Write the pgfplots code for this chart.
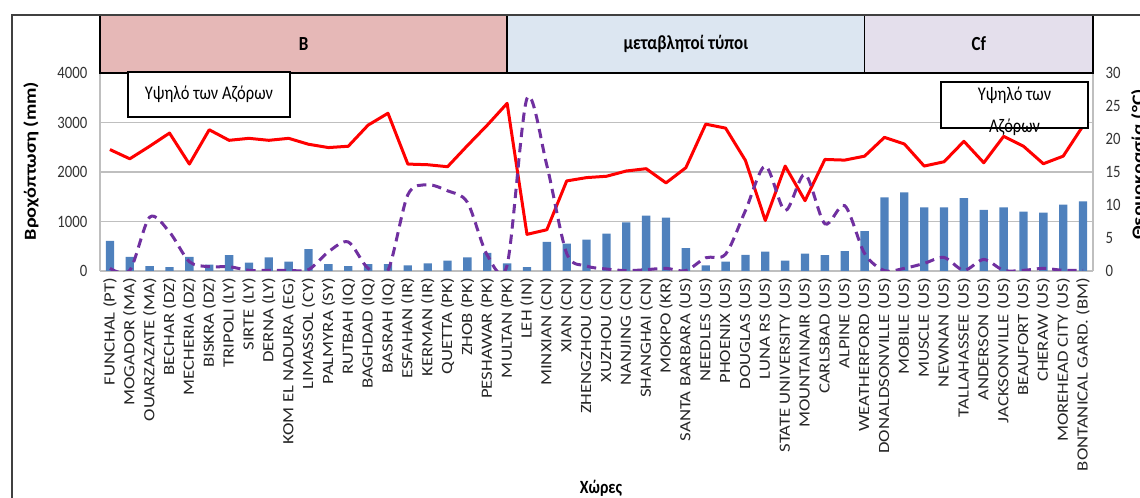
\documentclass[border=0pt]{standalone}
\usepackage{fontspec}
\setmainfont{Carlito}
\newfontfamily\hfont[FakeStretch=0.85]{Carlito}
\newfontfamily\vfont[FakeStretch=1.2]{Carlito}
\usepackage{pgfplots}
\usepackage{pgfplotstable}
\pgfplotsset{compat=1.18}

\definecolor{barblue}{HTML}{4F81BD}
\definecolor{tempred}{HTML}{FF0000}
\definecolor{rngpurple}{HTML}{7030A0}
\definecolor{bandB}{HTML}{E6B8B7}
\definecolor{bandV}{HTML}{DCE6F1}
\definecolor{bandC}{HTML}{E4DFEC}
\definecolor{gridgray}{HTML}{BFBFBF}

% idx, precipitation (mm), temperature (C), purple series (C)
\pgfplotstableread{
idx precip temp rng
0  607  18.4  0.4
1  287  17.0  0.1
2  100  18.9  8.15
3  80   20.9  5.9
4  287  16.2  1.4
5  130  21.4  0.65
6  320  19.8  0.65
7  167  20.1  0.1
8  273  19.8  0.1
9  187  20.1  0.1
10 440  19.2  0.2
11 140  18.7  2.9
12 100  18.9  4.4
13 140  22.1  0.4
14 140  23.9  0.1
15 113  16.2  11.55
16 153  16.1  13.05
17 207  15.8  12.15
18 273  19.0  10.4
19 367  22.1  2.4
20 153  25.4  0.9
21 80   5.55  26.15
22 587  6.25  16.0
23 553  13.65 2.65
24 633  14.15 0.75
25 753  14.35 0.3
26 980  15.15 0.05
27 1120 15.5  0.2
28 1080 13.35 0.4
29 460  15.65 0.05
30 113  22.25 2.0
31 187  21.65 2.55
32 327  16.75 9.15
33 393  7.65  15.9
34 207  15.9  9.15
35 353  10.65 14.65
36 320  16.9  7.15
37 400  16.8  9.9
38 807  17.4  2.65
39 1487 20.25 0.05
40 1587 19.25 0.4
41 1287 15.9  1.15
42 1287 16.55 2.05
43 1473 19.65 0.1
44 1233 16.4  1.75
45 1287 20.4  0.1
46 1200 18.9  0.1
47 1180 16.25 0.4
48 1340 17.4  0.1
49 1407 22.0  0.1
}\climate

\pgfplotsset{
  common/.style={
    scale only axis, width=744.75pt, height=148.5pt,
    xmin=-0.5, xmax=49.5,
    major tick length=0pt,
    axis line style={gridgray, line width=1pt},
    /pgf/number format/assume math mode=true,
    /pgf/number format/1000 sep={},
    yticklabel style={font=\hfont\fontsize{13}{13}\selectfont, text=black!80},
  },
}

\begin{document}
\begin{tikzpicture}
\begin{axis}[
  common, name=main,
  ymin=0, ymax=4000,
  ytick={0,1000,2000,3000,4000},
  axis x line*=bottom, axis y line*=left,
  ymajorgrids, grid style={gridgray, line width=1pt},
  yticklabel style={xshift=-6pt},
  xtick={0,...,49},
  xticklabels={FUNCHAL (PT), MOGADOR (MA), OUARZAZATE (MA), BECHAR (DZ), MECHERIA (DZ),
    BISKRA (DZ), TRIPOLI (LY), SIRTE (LY), DERNA (LY), KOM EL NADURA (EG),
    LIMASSOL (CY), PALMYRA (SY), RUTBAH (IQ), BAGHDAD (IQ), BASRAH (IQ),
    ESFAHAN (IR), KERMAN (IR), QUETTA (PK), ZHOB (PK), PESHAWAR (PK),
    MULTAN (PK), LEH (IN), MINXIAN (CN), XIAN (CN), ZHENGZHOU (CN),
    XUZHOU (CN), NANJING (CN), SHANGHAI (CN), MOKPO (KR), SANTA BARBARA (US),
    NEEDLES (US), PHOENIX (US), DOUGLAS (US), LUNA RS (US), STATE UNIVERSITY (US),
    MOUNTAINAIR (US), CARLSBAD (US), ALPINE (US), WEATHERFORD (US), DONALDSONVILLE (US),
    MOBILE (US), MUSCLE (US), NEWNAN (US), TALLAHASSEE (US), ANDERSON (US),
    JACKSONVILLE (US), BEAUFORT (US), CHERAW (US), MOREHEAD CITY (US), BONTANICAL GARD. (BM)},
  xticklabel style={font=\vfont\fontsize{11.7}{12}\selectfont, text=black!85,
    rotate=90, anchor=east, inner xsep=5pt, inner ysep=0pt},
]
\addplot[ybar, bar width=0.42, fill=barblue, draw=none] table[x=idx, y=precip] {\climate};
\end{axis}

\begin{axis}[
  common,
  ymin=0, ymax=30,
  ytick={0,5,...,30},
  axis x line=none, axis y line*=right,
  yticklabel style={xshift=6pt},
]
\addplot[tempred, line width=2.25pt, line join=round] table[x=idx, y=temp] {\climate};
\addplot[rngpurple, line width=2.25pt, smooth, tension=0.5,
  dash pattern=on 7pt off 4.5pt] table[x=idx, y=rng] {\climate};
\end{axis}

\begin{scope}[shift={(main.south west)}]
  % header bands
  \draw[fill=bandB, line width=1.1pt] (0,148.5pt) rectangle (305.35pt,192pt);
  \draw[fill=bandV, line width=1.1pt] (305.35pt,148.5pt) rectangle (573.46pt,192pt);
  \draw[fill=bandC, line width=1.1pt] (573.46pt,148.5pt) rectangle (744.75pt,192pt);
  \node[font=\hfont\bfseries\fontsize{15}{15}\selectfont] at (152.7pt,170.5pt) {B};
  \node[font=\hfont\bfseries\fontsize{15}{15}\selectfont] at (439.4pt,170.5pt) {μεταβλητοί τύποι};
  \node[font=\hfont\bfseries\fontsize{15}{15}\selectfont] at (659.1pt,170.5pt) {Cf};
  % outer frame
  \draw[black!75, line width=1.1pt] (-66pt,-200pt) |- (800pt,192pt);
  % annotation boxes
  \draw[fill=white, line width=1.1pt] (21pt,115.5pt) rectangle (142.5pt,149.25pt);
  \node[font=\hfont\fontsize{14.5}{14.5}\selectfont] at (81.75pt,132.4pt) {Υψηλό των Αζόρων};
  \draw[fill=white, line width=1.1pt] (630.75pt,107.25pt) rectangle (741pt,141.75pt);
  \node[font=\hfont\fontsize{14.5}{14.5}\selectfont] at (685.9pt,132pt) {Υψηλό των};
  \node[font=\hfont\fontsize{14.5}{14.5}\selectfont] at (685.9pt,108pt) {Αζόρων};
  % axis titles
  \node[rotate=90, font=\vfont\bfseries\fontsize{12.6}{13}\selectfont] at (-51.75pt,82.5pt) {Βροχόπτωση (mm)};
  \node[rotate=90, font=\vfont\bfseries\fontsize{12.6}{13}\selectfont] at (779pt,80pt) {Θερμοκρασία (°C)};
  \node[font=\hfont\bfseries\fontsize{14}{14}\selectfont] at (375.75pt,-162.75pt) {Χώρες};
  % crop to the reference frame
  \pgfresetboundingbox
  \path[use as bounding box] (-75pt,-170.25pt) rectangle (780pt,203.25pt);
\end{scope}
\end{tikzpicture}
\end{document}
